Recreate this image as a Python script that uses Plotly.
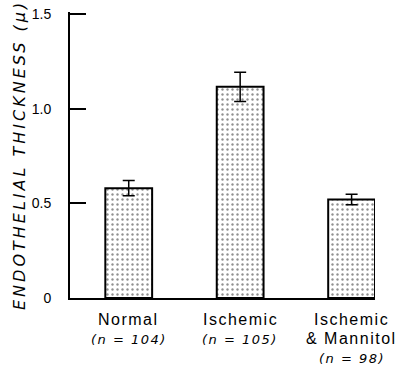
import plotly.graph_objects as go

categories = ["Normal", "Ischemic", "Ischemic & Mannitol"]
label_lines = [["Normal"], ["Ischemic"], ["Ischemic", "& Mannitol"]]
n_labels = ["(n = 104)", "(n = 105)", "(n = 98)"]
thickness = [0.58, 1.115, 0.52]
sem = [0.04, 0.077, 0.028]
ytick_vals = [0, 0.5, 1.0, 1.5]
ytick_text = ["0", "0.5", "1.0", "1.5"]

xpos = list(range(len(categories)))

fig = go.Figure()
fig.add_trace(go.Bar(
    x=xpos, y=thickness, width=0.42,
    marker=dict(color="white", line=dict(color="black", width=2),
                pattern=dict(shape=".", fgcolor="#222", bgcolor="white", size=5, solidity=0.18)),
    error_y=dict(type="data", array=sem, visible=True, color="black", thickness=1.5, width=6),
    showlegend=False,
))

annotations = []
for i, lines in enumerate(label_lines):
    y = 21
    for ln in lines:
        annotations.append(dict(x=xpos[i], y=0, xref="x", yref="y",
                                text="<span style='letter-spacing:1.5px'>" + ln + "</span>",
                                showarrow=False, yanchor="middle", yshift=-y,
                                font=dict(family="Liberation Sans, Arial", size=16, color="black")))
        y += 19
    annotations.append(dict(x=xpos[i], y=0, xref="x", yref="y",
                            text="<span style='letter-spacing:1.5px'><i>" + n_labels[i] + "</i></span>",
                            showarrow=False, yanchor="middle", yshift=-(y + 1),
                            font=dict(family="DejaVu Sans", size=13, color="black")))

annotations.append(dict(x=0, y=0.5, xref="paper", yref="paper", xshift=-51,
                        text="<span style='letter-spacing:3px'><i>ENDOTHELIAL THICKNESS (μ)</i></span>",
                        textangle=-90, showarrow=False, xanchor="center", yanchor="middle",
                        font=dict(family="DejaVu Sans", size=16, color="black")))

fig.update_layout(
    width=411, height=374,
    margin=dict(l=70, r=36, t=12, b=76),
    paper_bgcolor="white", plot_bgcolor="white",
    annotations=annotations,
    xaxis=dict(range=[-0.527, 2.21], showticklabels=False, ticks="", showgrid=False, zeroline=False,
               showline=True, linecolor="black", linewidth=2),
    yaxis=dict(range=[0, 1.51], tickvals=ytick_vals, ticktext=ytick_text, ticks="inside", ticklen=16,
               tickwidth=1.5, tickcolor="black", showgrid=False, zeroline=False, showline=True,
               linecolor="black", linewidth=2, ticklabelstandoff=14, automargin=False,
               ticklabeloverflow="allow",
               tickfont=dict(family="Liberation Sans, Arial", size=14, color="black")),
)

fig.write_html("out.html", post_script="document.body.style.margin='0';",
               config={"displayModeBar": False})
